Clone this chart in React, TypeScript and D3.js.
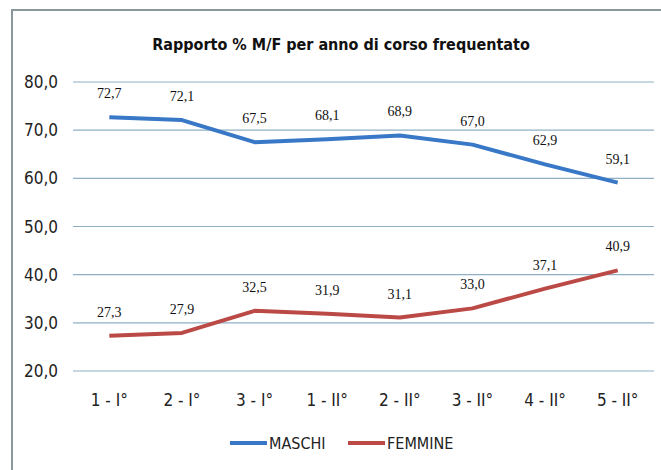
import React, { useEffect, useRef } from 'react';
import * as d3 from 'd3';

const categories = ['1 - I°', '2 - I°', '3 - I°', '1 - II°', '2 - II°', '3 - II°', '4 - II°', '5 - II°'];
const maschi = [72.7, 72.1, 67.5, 68.1, 68.9, 67.0, 62.9, 59.1];
const femmine = [27.3, 27.9, 32.5, 31.9, 31.1, 33.0, 37.1, 40.9];
const yTicks = [20, 30, 40, 50, 60, 70, 80];

const fmt = (v: number) => v.toFixed(1).replace('.', ',');

const App: React.FC = () => {
  const svgRef = useRef<SVGSVGElement>(null);

  useEffect(() => {
    if (!svgRef.current) return;
    const svg = d3.select(svgRef.current);
    svg.selectAll('*').remove();

    const width = 661;
    const height = 470;
    const labelFont = "'Liberation Sans Narrow', 'DejaVu Sans Condensed', sans-serif";

    svg.append('rect').attr('width', width).attr('height', height).attr('fill', '#fff');

    // outer frame
    svg.append('rect')
      .attr('x', 12).attr('y', 10)
      .attr('width', 670).attr('height', 480)
      .attr('fill', 'none')
      .attr('stroke', '#8a979c')
      .attr('stroke-width', 2);

    svg.append('text')
      .attr('x', 341).attr('y', 50)
      .attr('text-anchor', 'middle')
      .attr('font-family', labelFont)
      .attr('font-weight', 'bold')
      .attr('font-size', '16px')
      .attr('fill', '#111')
      .text('Rapporto % M/F per anno di corso frequentato');

    const x = d3.scaleBand().domain(categories).range([73, 654]);
    const y = d3.scaleLinear().domain([20, 80]).range([371, 82]);
    const cx = (c: string) => (x(c) || 0) + x.bandwidth() / 2;

    // gridlines
    svg.append('g').selectAll('line')
      .data(yTicks)
      .enter()
      .append('line')
      .attr('x1', 73).attr('x2', 654)
      .attr('y1', d => y(d)).attr('y2', d => y(d))
      .attr('stroke', '#8fb0c4')
      .attr('stroke-width', 1.2);

    // y labels
    svg.append('g').selectAll('text')
      .data(yTicks)
      .enter()
      .append('text')
      .attr('x', 58)
      .attr('y', d => y(d) + 6)
      .attr('text-anchor', 'end')
      .attr('font-family', labelFont)
      .attr('font-size', '17px')
      .attr('fill', '#222')
      .text(d => fmt(d));

    // x labels
    svg.append('g').selectAll('text')
      .data(categories)
      .enter()
      .append('text')
      .attr('x', d => cx(d))
      .attr('y', 406)
      .attr('text-anchor', 'middle')
      .attr('font-family', labelFont)
      .attr('font-size', '17px')
      .attr('fill', '#222')
      .text(d => d);

    const series = [
      { name: 'MASCHI', values: maschi, color: '#3878c6' },
      { name: 'FEMMINE', values: femmine, color: '#bb4a46' },
    ];

    const line = d3.line<number>()
      .x((_, i) => cx(categories[i]))
      .y(d => y(d));

    series.forEach(s => {
      svg.append('path')
        .datum(s.values)
        .attr('d', line)
        .attr('fill', 'none')
        .attr('stroke', s.color)
        .attr('stroke-width', 4)
        .attr('stroke-linejoin', 'round');

      svg.append('g').selectAll('text')
        .data(s.values)
        .enter()
        .append('text')
        .attr('x', (_, i) => cx(categories[i]))
        .attr('y', d => y(d) - 19)
        .attr('text-anchor', 'middle')
        .attr('font-family', "'Liberation Serif', 'DejaVu Serif', serif")
        .attr('font-size', '14px')
        .attr('fill', '#111')
        .text(d => fmt(d));
    });

    // legend
    const legend = [
      { name: 'MASCHI', color: '#3878c6', x: 230 },
      { name: 'FEMMINE', color: '#bb4a46', x: 348 },
    ];
    const lg = svg.append('g').selectAll('g').data(legend).enter().append('g');
    lg.append('line')
      .attr('x1', d => d.x).attr('x2', d => d.x + 37)
      .attr('y1', 443).attr('y2', 443)
      .attr('stroke', d => d.color)
      .attr('stroke-width', 4);
    lg.append('text')
      .attr('x', d => d.x + 39)
      .attr('y', 449)
      .attr('font-family', labelFont)
      .attr('font-size', '16px')
      .attr('fill', '#222')
      .text(d => d.name);
  }, []);

  return (
    <div style={{ position: 'absolute', left: 0, top: 0 }}>
      <svg ref={svgRef} width={661} height={470} style={{ display: 'block' }} />
    </div>
  );
};

export default App;
